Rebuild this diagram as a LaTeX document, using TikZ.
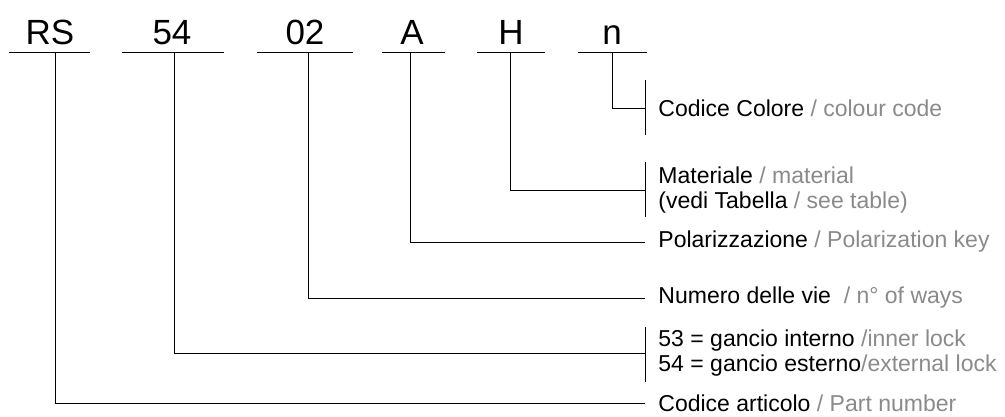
\documentclass[tikz,border=0pt]{standalone}
\usepackage{fontspec}
\setmainfont{Liberation Sans}
\definecolor{eng}{HTML}{8A8A8A}
\begin{document}
\begin{tikzpicture}[x=1pt,y=-1pt,line width=0.9pt,
  code/.style={font=\fontsize{35}{40}\selectfont,anchor=base,inner sep=0pt},
  desc/.style={font=\fontsize{23}{25.5}\selectfont,anchor=west,inner sep=0pt,align=left},
  conn/.style={draw,line width=0.9pt}]
\useasboundingbox (0,0) rectangle (1005,417);
% code labels
\node[code] (rs) at (50,45) {RS};
\node[code] (c54) at (172,45) {54};
\node[code] (c02) at (305,45) {02};
\node[code] (ca) at (412,45) {A};
\node[code] (ch) at (511,45) {H};
\node[code] (cn) at (612,45) {n};
% underlines
\draw (9,52) -- (90,52);
\draw (122,52) -- (224,52);
\draw (257,52) -- (353,52);
\draw (382,52) -- (445,52);
\draw (477,52) -- (545,52);
\draw (578,52) -- (647,52);
% connector start points
\coordinate (rsT) at (55,52);
\coordinate (c54T) at (174,52);
\coordinate (c02T) at (308,52);
\coordinate (caT) at (410,52);
\coordinate (chT) at (510,52);
\coordinate (cnT) at (612,52);
% descriptions
\node[desc] (col) at (658,108) {Codice Colore \textcolor{eng}{/ colour code}};
\node[desc] (mat) at (658,190) {Materiale \textcolor{eng}{/ material}\\(vedi Tabella \textcolor{eng}{/ see table)}};
\node[desc] (pol) at (658,242) {Polarizzazione \textcolor{eng}{/ Polarization key}};
\node[desc] (vie) at (658,298) {Numero delle vie \ \textcolor{eng}{/ n° of ways}};
\node[desc] (lock) at (658,353) {53 = gancio interno \textcolor{eng}{/inner lock}\\54 = gancio esterno\textcolor{eng}{/external lock}};
\node[desc] (art) at (658,403) {Codice articolo \textcolor{eng}{/ Part number}};
% brackets
\draw (645,80) -- (645,135);
\draw (645,162) -- (645,217);
\draw (645,327) -- (645,382);
% connectors
\draw[conn] (cnT) |- ([xshift=-13pt]col.west);
\draw[conn] (chT) |- ([xshift=-13pt]mat.west);
\draw[conn] (caT) |- ([xshift=-13pt]pol.west);
\draw[conn] (c02T) |- ([xshift=-13pt]vie.west);
\draw[conn] (c54T) |- ([xshift=-13pt]lock.west);
\draw[conn] (rsT) |- ([xshift=-13pt]art.west);
\end{tikzpicture}
\end{document}
